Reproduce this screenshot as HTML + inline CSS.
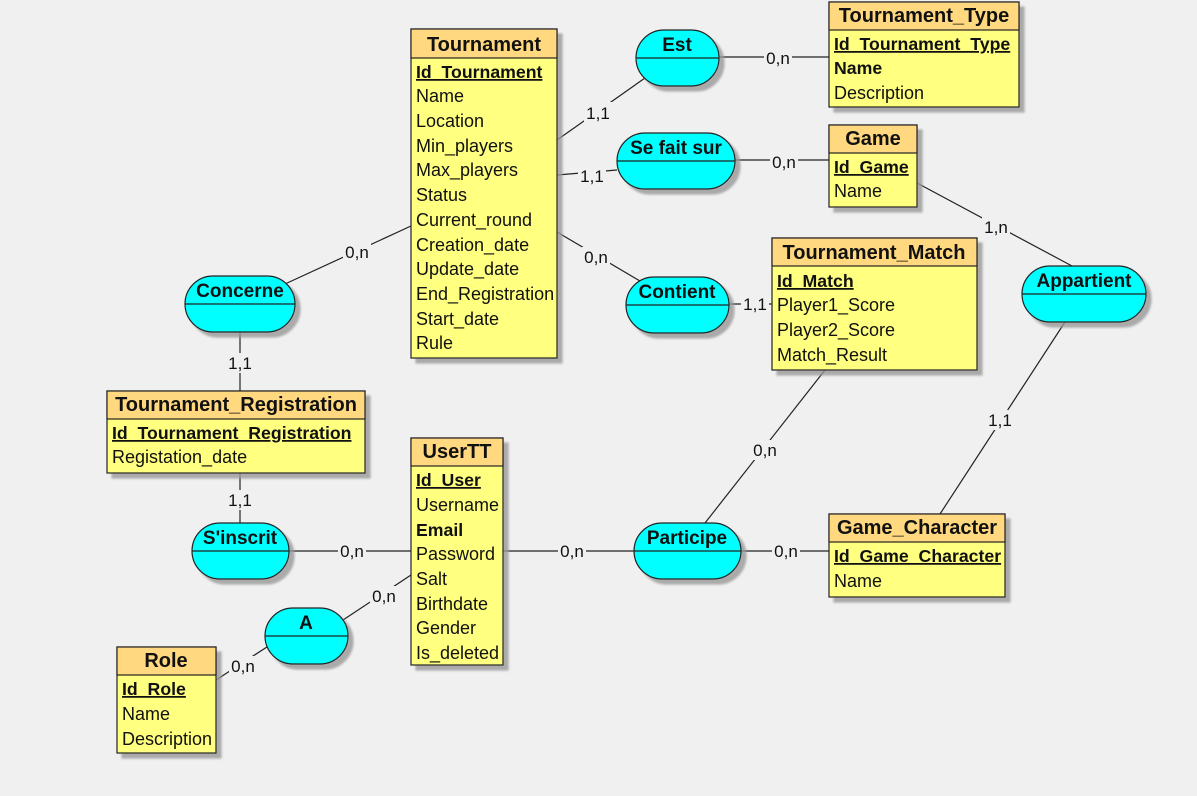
<!DOCTYPE html>
<html><head><meta charset="utf-8"><style>
html,body{margin:0;padding:0;background:#f0f0f0;}
svg{display:block;}
text{font-family:"Liberation Sans",sans-serif;font-size:18px;fill:#111;}
.h{font-weight:bold;font-size:20px;text-anchor:middle;}
.b{font-weight:bold;font-size:17.7px;}
.l{text-anchor:middle;font-size:17px;}
</style></head><body>
<svg width="1197" height="796" viewBox="0 0 1197 796">
<defs>
<filter id="sh" x="-10%" y="-10%" width="130%" height="130%"><feDropShadow dx="5" dy="5" stdDeviation="1" flood-color="#999" flood-opacity="0.8"/></filter>
</defs>
<g stroke="#222" stroke-width="1.2" fill="none">
<line x1="557" y1="140" x2="645" y2="78"/>
<line x1="719" y1="57" x2="829" y2="57"/>
<line x1="557" y1="175" x2="617" y2="170"/>
<line x1="735" y1="160" x2="829" y2="160"/>
<line x1="557" y1="232" x2="640" y2="281"/>
<line x1="729" y1="304" x2="772" y2="304"/>
<line x1="917" y1="183" x2="1072" y2="266"/>
<line x1="1065" y1="322" x2="940" y2="514"/>
<line x1="411" y1="226" x2="285" y2="284"/>
<line x1="240" y1="332" x2="240" y2="391"/>
<line x1="240" y1="473" x2="240" y2="523"/>
<line x1="289" y1="551" x2="411" y2="551"/>
<line x1="503" y1="551" x2="634" y2="551"/>
<line x1="741" y1="551" x2="829" y2="551"/>
<line x1="705" y1="523" x2="825" y2="370"/>
<line x1="411" y1="575" x2="340" y2="622"/>
<line x1="270" y1="645" x2="216" y2="680"/>
</g>
<g>
<rect x="584" y="102" width="28" height="20" fill="#f0f0f0"/><text x="598" y="119" class="l">1,1</text>
<rect x="764" y="48" width="28" height="20" fill="#f0f0f0"/><text x="778" y="64" class="l">0,n</text>
<rect x="578" y="166" width="28" height="20" fill="#f0f0f0"/><text x="592" y="182" class="l">1,1</text>
<rect x="770" y="152" width="28" height="20" fill="#f0f0f0"/><text x="784" y="168" class="l">0,n</text>
<rect x="582" y="247" width="28" height="20" fill="#f0f0f0"/><text x="596" y="263" class="l">0,n</text>
<rect x="741" y="294" width="28" height="20" fill="#f0f0f0"/><text x="755" y="310" class="l">1,1</text>
<rect x="982" y="217" width="28" height="20" fill="#f0f0f0"/><text x="996" y="233" class="l">1,n</text>
<rect x="986" y="410" width="28" height="20" fill="#f0f0f0"/><text x="1000" y="426" class="l">1,1</text>
<rect x="343" y="242" width="28" height="20" fill="#f0f0f0"/><text x="357" y="258" class="l">0,n</text>
<rect x="226" y="353" width="28" height="20" fill="#f0f0f0"/><text x="240" y="369" class="l">1,1</text>
<rect x="226" y="490" width="28" height="20" fill="#f0f0f0"/><text x="240" y="506" class="l">1,1</text>
<rect x="338" y="541" width="28" height="20" fill="#f0f0f0"/><text x="352" y="557" class="l">0,n</text>
<rect x="558" y="541" width="28" height="20" fill="#f0f0f0"/><text x="572" y="557" class="l">0,n</text>
<rect x="772" y="541" width="28" height="20" fill="#f0f0f0"/><text x="786" y="557" class="l">0,n</text>
<rect x="751" y="440" width="28" height="20" fill="#f0f0f0"/><text x="765" y="456" class="l">0,n</text>
<rect x="370" y="586" width="28" height="20" fill="#f0f0f0"/><text x="384" y="602" class="l">0,n</text>
<rect x="229" y="656" width="28" height="20" fill="#f0f0f0"/><text x="243" y="672" class="l">0,n</text>
</g>

<g stroke="#222" stroke-width="1.2">
<rect x="636" y="30" width="83" height="56" rx="28" fill="#00ffff" filter="url(#sh)"/><line x1="636" y1="58" x2="719" y2="58"/>
<rect x="617" y="133" width="118" height="56" rx="28" fill="#00ffff" filter="url(#sh)"/><line x1="617" y1="161" x2="735" y2="161"/>
<rect x="626" y="277" width="103" height="56" rx="28" fill="#00ffff" filter="url(#sh)"/><line x1="626" y1="305" x2="729" y2="305"/>
<rect x="185" y="276" width="110" height="56" rx="28" fill="#00ffff" filter="url(#sh)"/><line x1="185" y1="304" x2="295" y2="304"/>
<rect x="1022" y="266" width="124" height="56" rx="28" fill="#00ffff" filter="url(#sh)"/><line x1="1022" y1="294" x2="1146" y2="294"/>
<rect x="192" y="523" width="97" height="56" rx="28" fill="#00ffff" filter="url(#sh)"/><line x1="192" y1="551" x2="289" y2="551"/>
<rect x="634" y="523" width="107" height="56" rx="28" fill="#00ffff" filter="url(#sh)"/><line x1="634" y1="551" x2="741" y2="551"/>
<rect x="265" y="608" width="83" height="56" rx="28" fill="#00ffff" filter="url(#sh)"/><line x1="265" y1="636" x2="348" y2="636"/>
</g>
<text class="h" x="677" y="51" style="font-size:19px">Est</text>
<text class="h" x="676" y="154" style="font-size:19px">Se fait sur</text>
<text class="h" x="677" y="298" style="font-size:19px">Contient</text>
<text class="h" x="240" y="297" style="font-size:19px">Concerne</text>
<text class="h" x="1084" y="287" style="font-size:19px">Appartient</text>
<text class="h" x="240" y="544" style="font-size:19px">S'inscrit</text>
<text class="h" x="687" y="544" style="font-size:19px">Participe</text>
<text class="h" x="306" y="629" style="font-size:19px">A</text>

<g stroke="#222" stroke-width="1.2">
<rect x="411" y="29" width="146" height="329" fill="#ffff80" filter="url(#sh)"/><rect x="411" y="29" width="146" height="29" fill="#ffd880"/>
<rect x="829" y="2" width="190" height="105" fill="#ffff80" filter="url(#sh)"/><rect x="829" y="2" width="190" height="28" fill="#ffd880"/>
<rect x="829" y="125" width="88" height="82" fill="#ffff80" filter="url(#sh)"/><rect x="829" y="125" width="88" height="28" fill="#ffd880"/>
<rect x="772" y="238" width="205" height="132" fill="#ffff80" filter="url(#sh)"/><rect x="772" y="238" width="205" height="28" fill="#ffd880"/>
<rect x="107" y="391" width="258" height="82" fill="#ffff80" filter="url(#sh)"/><rect x="107" y="391" width="258" height="28" fill="#ffd880"/>
<rect x="411" y="438" width="92" height="227" fill="#ffff80" filter="url(#sh)"/><rect x="411" y="438" width="92" height="28" fill="#ffd880"/>
<rect x="829" y="514" width="176" height="83" fill="#ffff80" filter="url(#sh)"/><rect x="829" y="514" width="176" height="28" fill="#ffd880"/>
<rect x="117" y="647" width="99" height="106" fill="#ffff80" filter="url(#sh)"/><rect x="117" y="647" width="99" height="28" fill="#ffd880"/>
</g>

<text class="h" x="484" y="51">Tournament</text>
<text class="b" x="416" y="78" text-decoration="underline">Id_Tournament</text>
<text x="416" y="102">Name</text>
<text x="416" y="127">Location</text>
<text x="416" y="152">Min_players</text>
<text x="416" y="176">Max_players</text>
<text x="416" y="201">Status</text>
<text x="416" y="226">Current_round</text>
<text x="416" y="251">Creation_date</text>
<text x="416" y="275">Update_date</text>
<text x="416" y="300">End_Registration</text>
<text x="416" y="325">Start_date</text>
<text x="416" y="349">Rule</text>

<text class="h" x="924" y="22">Tournament_Type</text>
<text class="b" x="834" y="50" text-decoration="underline">Id_Tournament_Type</text>
<text class="b" x="834" y="74">Name</text>
<text x="834" y="99">Description</text>

<text class="h" x="873" y="145">Game</text>
<text class="b" x="834" y="173" text-decoration="underline">Id_Game</text>
<text x="834" y="197">Name</text>

<text class="h" x="874" y="259">Tournament_Match</text>
<text class="b" x="777" y="287" text-decoration="underline">Id_Match</text>
<text x="777" y="311">Player1_Score</text>
<text x="777" y="336">Player2_Score</text>
<text x="777" y="361">Match_Result</text>

<text class="h" x="236" y="411">Tournament_Registration</text>
<text class="b" x="112" y="439" text-decoration="underline">Id_Tournament_Registration</text>
<text x="112" y="463">Registation_date</text>

<text class="h" x="457" y="458">UserTT</text>
<text class="b" x="416" y="486" text-decoration="underline">Id_User</text>
<text x="416" y="511">Username</text>
<text class="b" x="416" y="536">Email</text>
<text x="416" y="560">Password</text>
<text x="416" y="585">Salt</text>
<text x="416" y="610">Birthdate</text>
<text x="416" y="634">Gender</text>
<text x="416" y="659">Is_deleted</text>

<text class="h" x="917" y="534">Game_Character</text>
<text class="b" x="834" y="562" text-decoration="underline">Id_Game_Character</text>
<text x="834" y="587">Name</text>

<text class="h" x="166" y="667">Role</text>
<text class="b" x="122" y="695" text-decoration="underline">Id_Role</text>
<text x="122" y="720">Name</text>
<text x="122" y="745">Description</text>
</svg>
</body></html>
